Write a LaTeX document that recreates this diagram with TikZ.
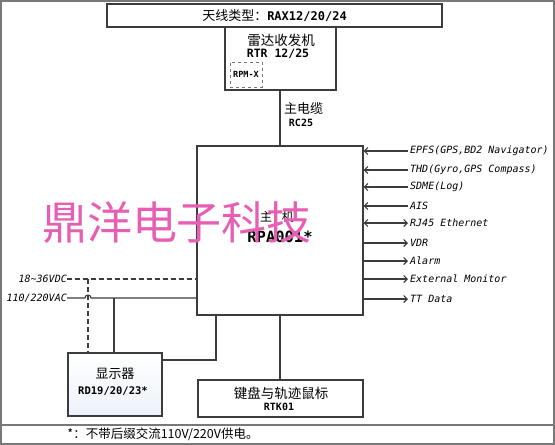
\documentclass[tikz,border=0pt]{standalone}
\usepackage{fontspec}
\newfontfamily\cjkf{Noto Sans CJK SC}
\newfontfamily\monof{DejaVu Sans Mono}
\usetikzlibrary{arrows.meta}
\definecolor{linec}{RGB}{60,60,60}
\definecolor{framec}{RGB}{120,120,120}
\definecolor{wmc}{RGB}{230,95,180}
\definecolor{dispfill}{RGB}{236,242,250}
\begin{document}
\begin{tikzpicture}[x=1pt,y=-1pt,
  >={Straight Barb[length=3.5pt,width=7pt]},
  box/.style={draw=linec, line width=1.2pt, inner sep=0pt},
  conn/.style={draw=linec, line width=1.1pt},
  zh/.style={inner sep=0pt, font=\cjkf\fontsize{13}{15}\selectfont},
  bd/.style={inner sep=0pt, font=\monof\bfseries\fontsize{10.5}{12}\selectfont},
  lab/.style={inner sep=0pt, font=\monof\itshape\fontsize{10}{12}\selectfont}]
\useasboundingbox (0,0) rectangle (555,445);
\draw[framec, line width=1.5pt] (1,1) rectangle (554,444);
\draw[framec, line width=1.2pt] (1,425) -- (554,425);

% boxes
\node[box, minimum width=335pt, minimum height=23pt] (ant) at (274.5,15.5)
  {{\cjkf\fontsize{13}{15}\selectfont 天线类型：}{\monof\bfseries\fontsize{12}{14}\selectfont RAX12/20/24}};
\node[box, minimum width=111pt, minimum height=63pt] (rtr) at (280.5,58.5) {};
\node[zh, font=\cjkf\fontsize{13.5}{15}\selectfont] (rtrzh) at (281,40) {雷达收发机};
\node[bd, font=\monof\bfseries\fontsize{11.5}{13}\selectfont] (rtren) at (278,54) {RTR 12/25};
\node[draw=framec, dashed, line width=1pt, minimum width=32pt, minimum height=25pt, inner sep=0pt,
  font=\monof\bfseries\fontsize{8.5}{10}\selectfont] (rpm) at (246,74.5) {RPM-X};

\node[box, minimum width=166pt, minimum height=169pt] (main) at (280,230.5) {};
\node[zh, font=\cjkf\fontsize{12}{14}\selectfont] (mainzh) at (277,217) {主\hspace{0.8em}机};
\node[bd, font=\monof\bfseries\fontsize{15.5}{17}\selectfont] (mainen) at (280,237) {RPA001*};

\node[box, minimum width=94pt, minimum height=63pt, top color=white, bottom color=dispfill] (disp) at (115,384.5) {};
\node[zh] (dispzh) at (115,374) {显示器};
\node[bd] (dispen) at (113,391) {RD19/20/23*};

\node[box, minimum width=165pt, minimum height=37pt] (kbd) at (280.5,398.5) {};
\node[zh, font=\cjkf\fontsize{13.5}{15}\selectfont] (kbdzh) at (281,393) {键盘与轨迹鼠标};
\node[bd, font=\monof\bfseries\fontsize{10}{12}\selectfont] (kbden) at (279,407) {RTK01};

% main cable
\draw[conn] (main.north |- rtr.south) -- (main.north);
\node[zh] (cablezh) at (303.5,109) {主电缆};
\node[bd, font=\monof\bfseries\fontsize{10}{12}\selectfont] (cableen) at (301,123) {RC25};

% keyboard link
\draw[conn] (main.south) -- (main.south |- kbd.north);

% display link
\coordinate (dj) at (216,360);
\draw[conn] (disp.east |- dj) -- (dj) -- (dj |- main.south);

% power
\coordinate (dc) at (67,279);
\coordinate (ac) at (67,298);
\node[lab, anchor=east] (dct) at (dc) {18\textasciitilde36VDC};
\node[lab, anchor=east] (act) at (ac) {110/220VAC};
\draw[conn, dash pattern=on 5pt off 3pt] (dc) -- (dc -| main.west);
\draw[conn] (ac) -- (85,298) arc (180:360:3) -- (ac -| main.west);
\draw[conn, dash pattern=on 5pt off 3pt] (88,279) -- (88,353);
\draw[conn] (114,298) -- (114,353);

% right side
\coordinate (r1) at (408,151);
\coordinate (r2) at (408,170);
\coordinate (r3) at (408,187);
\coordinate (r4) at (408,206);
\coordinate (r5) at (408,223);
\coordinate (r6) at (408,243);
\coordinate (r7) at (408,261);
\coordinate (r8) at (408,279);
\coordinate (r9) at (408,299);
\draw[conn,<-] (r1 -| main.east) -- (r1);
\draw[conn,<-] (r2 -| main.east) -- (r2);
\draw[conn,<-] (r3 -| main.east) -- (r3);
\draw[conn,<-] (r4 -| main.east) -- (r4);
\draw[conn,<->] (r5 -| main.east) -- (r5);
\draw[conn,->] (r6 -| main.east) -- (r6);
\draw[conn,->] (r7 -| main.east) -- (r7);
\draw[conn,->] (r8 -| main.east) -- (r8);
\draw[conn,->] (r9 -| main.east) -- (r9);
\node[lab, anchor=west] (t1) at ([xshift=2pt]r1) {EPFS(GPS,BD2 Navigator)};
\node[lab, anchor=west] (t2) at ([xshift=2pt]r2) {THD(Gyro,GPS Compass)};
\node[lab, anchor=west] (t3) at ([xshift=2pt]r3) {SDME(Log)};
\node[lab, anchor=west] (t4) at ([xshift=2pt]r4) {AIS};
\node[lab, anchor=west] (t5) at ([xshift=2pt]r5) {RJ45 Ethernet};
\node[lab, anchor=west] (t6) at ([xshift=2pt]r6) {VDR};
\node[lab, anchor=west] (t7) at ([xshift=2pt]r7) {Alarm};
\node[lab, anchor=west] (t8) at ([xshift=2pt]r8) {External Monitor};
\node[lab, anchor=west] (t9) at ([xshift=2pt]r9) {TT Data};

% footer
\node[zh, font=\cjkf\fontsize{12.5}{14}\selectfont] (foot) at (163,434) {*：不带后缀交流110V/220V供电。};

% watermark (printed over the main unit in the reference)
\node[inner sep=0pt, text=wmc, font=\cjkf\fontsize{45}{50}\selectfont] (wm) at (177,223) {鼎洋电子科技};
\end{tikzpicture}
\end{document}
